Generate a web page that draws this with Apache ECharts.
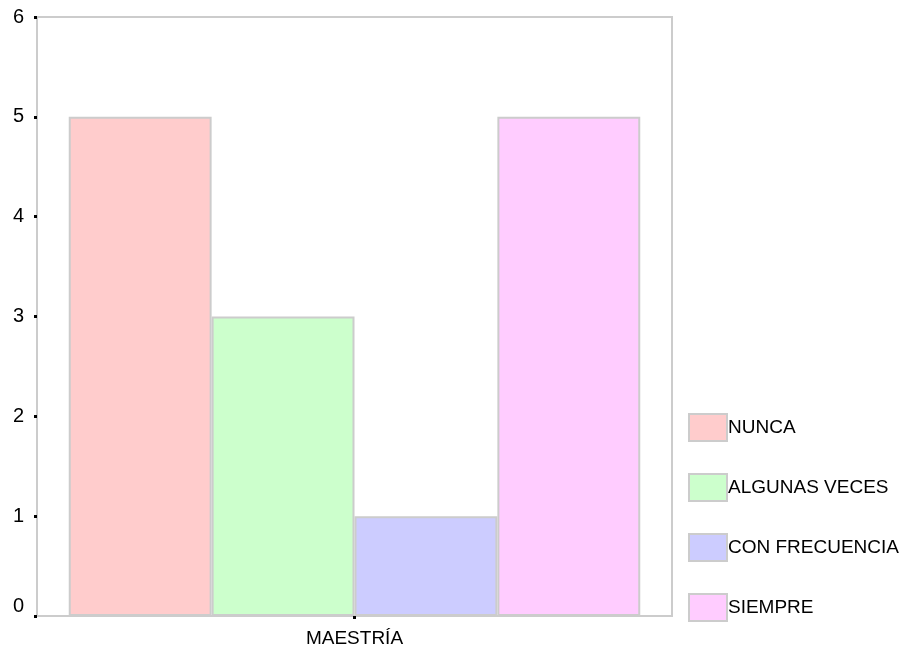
<!DOCTYPE html>
<html>
<head>
<meta charset="utf-8">
<script src="https://cdn.jsdelivr.net/npm/echarts@6/dist/echarts.min.js"></script>
<style>
html,body{margin:0;padding:0;background:#fff;}
#chart{width:908px;height:652px;}
</style>
</head>
<body>
<div id="chart"></div>
<script>
var categories = ['MAESTRÍA'];
var seriesNames = ['NUNCA', 'ALGUNAS VECES', 'CON FRECUENCIA', 'SIEMPRE'];
var nunca = [5];
var algunasVeces = [3];
var conFrecuencia = [1];
var siempre = [5];
var yTicks = [0, 1, 2, 3, 4, 5, 6];

var colors = ['#ffcccc', '#ccffcc', '#ccccff', '#ffccff'];
var values = [nunca, algunasVeces, conFrecuencia, siempre];

var chart = echarts.init(document.getElementById('chart'));

var series = [];
for (var i = 0; i < seriesNames.length; i++) {
	series.push({
		name: seriesNames[i],
		type: 'bar',
		data: values[i],
		barGap: '0%',
		barCategoryGap: '10%',
		itemStyle: { color: colors[i], borderColor: '#cccccc', borderWidth: 2 }
	});
}

var option = {
	animation: false,
	textStyle: { fontFamily: 'Liberation Sans, Arial, sans-serif' },
	grid: {
		left: 37, top: 17, right: 236, bottom: 36,
		show: true, borderColor: '#cccccc', borderWidth: 2, backgroundColor: '#ffffff'
	},
	legend: {
		orient: 'vertical',
		left: 688,
		top: 413,
		padding: 0,
		itemWidth: 38,
		itemHeight: 27,
		itemGap: 31,
		icon: 'rect',
		data: seriesNames,
		textStyle: { fontSize: 19, color: '#000', padding: [6, 0, 0, -4] },
		itemStyle: { borderColor: '#cccccc', borderWidth: 2 }
	},
	xAxis: {
		type: 'category',
		data: categories,
		axisLine: { show: false },
		axisTick: { show: true, alignWithLabel: true, length: 3, lineStyle: { color: '#000', width: 3 } },
		axisLabel: { color: '#000', fontSize: 19, margin: 13 }
	},
	yAxis: {
		type: 'value',
		min: yTicks[0],
		max: yTicks[yTicks.length - 1],
		interval: 1,
		axisLine: { show: false },
		splitLine: { show: false },
		axisTick: { show: true, length: 3, lineStyle: { color: '#000', width: 3 } },
		axisLabel: {
			color: '#000', fontSize: 20, margin: 13,
			formatter: function (v) {
				// the zero label sits a little above its tick
				return v === 0 ? '{z|0}' : String(v);
			},
			rich: { z: { fontSize: 20, color: '#000', padding: [0, 0, 20, 0] } }
		}
	},
	series: series
};
chart.setOption(option);
</script>
</body>
</html>
